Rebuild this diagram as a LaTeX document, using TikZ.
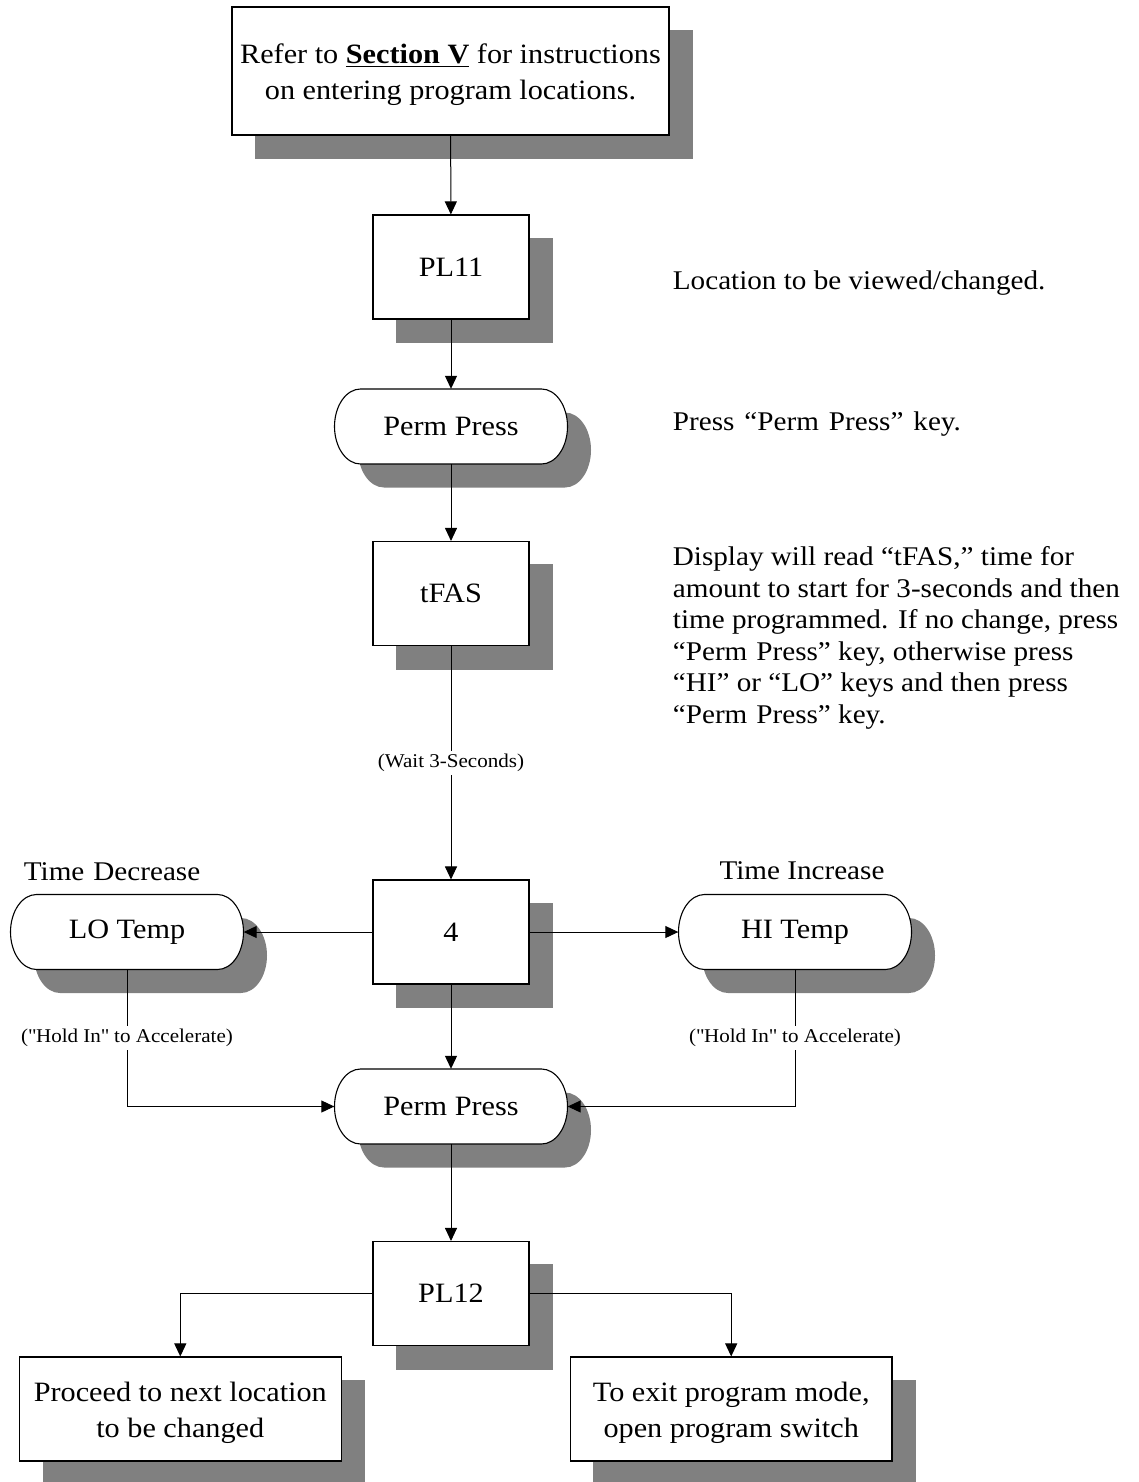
\documentclass[tikz,border=0pt]{standalone}
\usepackage{fontspec}
\setmainfont{Liberation Serif}[FakeStretch=1.08]
\usetikzlibrary{arrows.meta,calc}
\pgfdeclarelayer{bg}
\pgfsetlayers{bg,main}
\definecolor{shadowgray}{RGB}{128,128,128}
\newcommand\nodefont{\fontsize{28}{36}\selectfont}
\newcommand\descfont{\fontsize{27}{31.5}\selectfont}
\newcommand\smallfont{\fontsize{19.5}{23}\selectfont}
\newcommand\sq{\XeTeXglyph\XeTeXcharglyph"22\relax}
\newcommand\rshadow[1]{%
  \begin{pgfonlayer}{bg}
    \fill[shadowgray] ([shift={(23.5,23.5)}]#1.north west) rectangle ([shift={(23.5,23.5)}]#1.south east);
  \end{pgfonlayer}}
\newcommand\stadium[1]{%
  \begin{pgfonlayer}{bg}
    \begin{scope}[shift={(#1.center)}]
      \fill[shadowgray] (-67,-14) -- (114,-14)
        arc[start angle=-90,end angle=90,x radius=26,y radius=37.5] -- (-67,61)
        arc[start angle=90,end angle=270,x radius=26,y radius=37.5] -- cycle;
      \filldraw[fill=white,draw=black,line width=1.1pt] (-90.5,-37.5) -- (90.5,-37.5)
        arc[start angle=-90,end angle=90,x radius=26,y radius=37.5] -- (-90.5,37.5)
        arc[start angle=90,end angle=270,x radius=26,y radius=37.5] -- cycle;
    \end{scope}
  \end{pgfonlayer}}
\begin{document}
\begin{tikzpicture}[x=1pt,y=-1pt,
  rbox/.style={draw=black,fill=white,line width=1.1pt,minimum width=156pt,minimum height=104pt,inner sep=0pt,align=center,font=\nodefont},
  snode/.style={minimum width=233pt,minimum height=75pt,inner sep=0pt,font=\nodefont},
  conn/.style={draw=black,line width=1pt,-{Triangle[length=13pt,width=12pt]}},
  lbl/.style={fill=white,font=\smallfont,inner sep=3pt},
  desc/.style={font=\descfont,inner sep=0pt}]
\useasboundingbox (0,0) rectangle (1138,1482);

% boxes
\node[rbox,minimum width=437pt,minimum height=128pt] (top) at (450.5,71)
  {\rule{0pt}{28pt}Refer to \underline{\textbf{Section V}} for instructions\\on entering program locations.};
\rshadow{top}
\node[rbox] (pl11) at (451,267) {PL11};
\rshadow{pl11}
\node[snode] (pp1) at (451,426.5) {Perm Press};
\stadium{pp1}
\node[rbox] (tfas) at (451,593.5) {tFAS};
\rshadow{tfas}
\node[rbox] (four) at (451,932) {4};
\rshadow{four}
\node[snode] (lo) at (127,932) {LO Temp};
\stadium{lo}
\node[snode] (hi) at (795,932) {HI Temp};
\stadium{hi}
\node[snode] (pp2) at (451,1106.5) {Perm Press};
\stadium{pp2}
\node[rbox] (pl12) at (451,1293.5) {PL12};
\rshadow{pl12}
\node[rbox,minimum width=321.5pt] (next) at (180.3,1409) {\rule{0pt}{28pt}Proceed to next location\\to be changed};
\rshadow{next}
\node[rbox,minimum width=321.5pt] (exit) at (731.2,1409) {\rule{0pt}{28pt}To exit program mode,\\open program switch};
\rshadow{exit}

% connectors
\draw[conn] (top) -- (pl11);
\draw[conn] (pl11) -- (pp1);
\draw[conn] (pp1) -- (tfas);
\draw[conn] (tfas) -- node[lbl] {(Wait 3-Seconds)} (four);
\draw[conn] (four) -- (lo);
\draw[conn] (four) -- (hi);
\draw[conn] (four) -- (pp2);
\draw[conn] (lo) |- node[lbl,pos=0.25] {(\sq Hold In\sq{} to Accelerate)} (pp2);
\draw[conn] (hi) |- node[lbl,pos=0.25] {(\sq Hold In\sq{} to Accelerate)} (pp2);
\draw[conn] (pp2) -- (pl12);
\draw[conn] (pl12) -| (next);
\draw[conn] (pl12) -| (exit);

% side texts
\node[desc,anchor=base west] (tdec) at (23.7,880.7) {Time\hspace{9pt}Decrease};
\node[desc,anchor=base] (tinc) at (802,879.3) {Time Increase};
\node[desc,anchor=base west] (d1) at (672.7,289.5) {Location to be viewed/changed.};
\node[desc,anchor=base west] (d2) at (672.7,430.5) {Press\hspace{10pt}“Perm\hspace{10pt}Press”\hspace{10pt}key.};
\node[desc,anchor=north west,align=left] (d3) at (672.7,546.5)
  {Display will read “tFAS,” time for\\
   amount to start for 3-seconds and then\\
   time programmed.  If no change, press\\
   “Perm\hspace{9pt}Press” key, otherwise press\\
   “HI” or “LO” keys and then press\\
   “Perm\hspace{9pt}Press” key.};
\end{tikzpicture}
\end{document}
